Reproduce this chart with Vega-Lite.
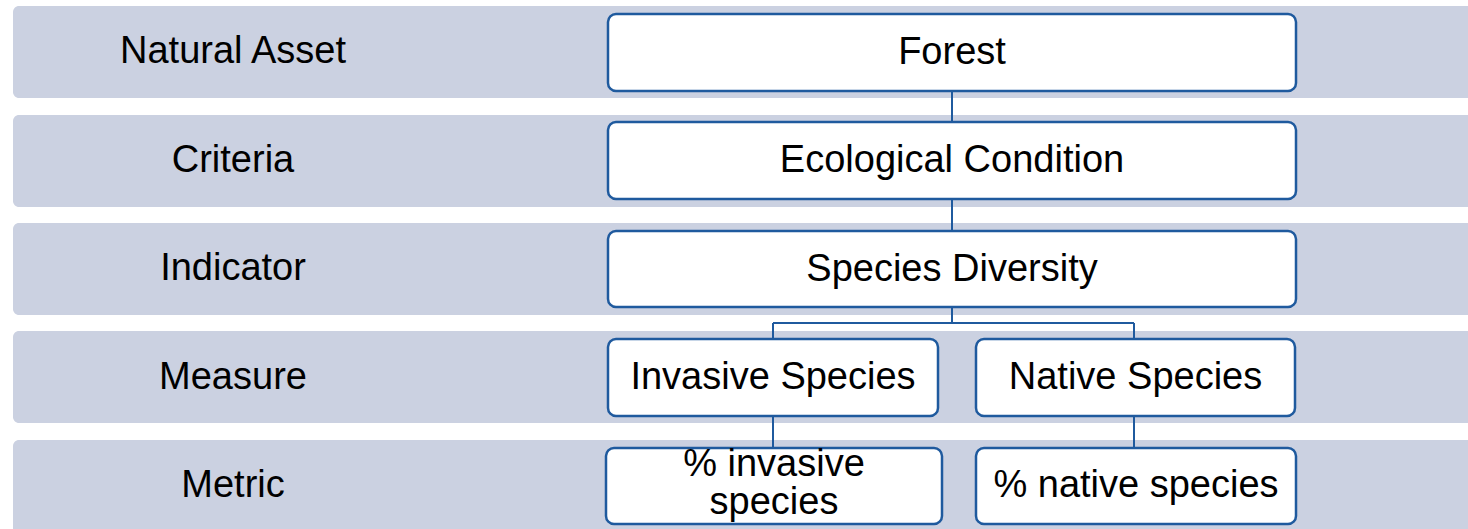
{
  "$schema": "https://vega.github.io/schema/vega-lite/v6.json",
  "width": 1468,
  "height": 529,
  "autosize": {"type": "fit", "contains": "padding"},
  "padding": 0,
  "background": "white",
  "config": {"view": {"stroke": null}},
  "datasets": {
    "bands": [
      {"level": "Natural Asset", "x1": 13, "x2": 1480, "y1": 6, "y2": 98, "ty": 63},
      {"level": "Criteria", "x1": 13, "x2": 1480, "y1": 115, "y2": 207, "ty": 172},
      {"level": "Indicator", "x1": 13, "x2": 1480, "y1": 223, "y2": 315, "ty": 280},
      {"level": "Measure", "x1": 13, "x2": 1480, "y1": 331, "y2": 423, "ty": 389},
      {"level": "Metric", "x1": 13, "x2": 1480, "y1": 440, "y2": 540, "ty": 497}
    ],
    "boxes": [
      {"label": "Forest", "x1": 608, "x2": 1296, "y1": 14, "y2": 91, "ty": 64},
      {"label": "Ecological Condition", "x1": 608, "x2": 1296, "y1": 122, "y2": 199, "ty": 172},
      {"label": "Species Diversity", "x1": 608, "x2": 1296, "y1": 231, "y2": 307, "ty": 281},
      {"label": "Invasive Species", "x1": 608, "x2": 938, "y1": 339, "y2": 416, "ty": 389},
      {"label": "Native Species", "x1": 976, "x2": 1295, "y1": 339, "y2": 416, "ty": 389},
      {"label": "% invasive\nspecies", "x1": 606, "x2": 942, "y1": 448, "y2": 524, "ty": 476},
      {"label": "% native species", "x1": 976, "x2": 1296, "y1": 448, "y2": 524, "ty": 497}
    ],
    "links": [
      {"x1": 952, "x2": 952, "y1": 91, "y2": 122},
      {"x1": 952, "x2": 952, "y1": 199, "y2": 231},
      {"x1": 952, "x2": 952, "y1": 307, "y2": 323},
      {"x1": 773, "x2": 1134, "y1": 323, "y2": 323},
      {"x1": 773, "x2": 773, "y1": 323, "y2": 339},
      {"x1": 1134, "x2": 1134, "y1": 323, "y2": 339},
      {"x1": 773, "x2": 773, "y1": 416, "y2": 448},
      {"x1": 1134, "x2": 1134, "y1": 416, "y2": 448}
    ]
  },
  "layer": [
    {
      "data": {"name": "bands"},
      "mark": {"type": "rect", "fill": "#cbd1e1", "cornerRadius": 6, "clip": true},
      "encoding": {
        "x": {"field": "x1", "type": "quantitative", "scale": {"domain": [0, 1468], "nice": false, "zero": false}, "axis": null},
        "x2": {"field": "x2"},
        "y": {"field": "y1", "type": "quantitative", "scale": {"domain": [0, 529], "nice": false, "zero": false, "reverse": true}, "axis": null},
        "y2": {"field": "y2"}
      }
    },
    {
      "data": {"name": "bands"},
      "mark": {"type": "text", "font": "Liberation Sans", "fontSize": 38, "color": "#000000", "align": "center", "baseline": "alphabetic"},
      "encoding": {
        "x": {"datum": 233, "type": "quantitative"},
        "y": {"field": "ty", "type": "quantitative"},
        "text": {"field": "level"}
      }
    },
    {
      "data": {"name": "links"},
      "mark": {"type": "rule", "color": "#1f5a9e", "strokeWidth": 2},
      "encoding": {
        "x": {"field": "x1", "type": "quantitative"},
        "x2": {"field": "x2"},
        "y": {"field": "y1", "type": "quantitative"},
        "y2": {"field": "y2"}
      }
    },
    {
      "data": {"name": "boxes"},
      "mark": {"type": "rect", "fill": "#ffffff", "stroke": "#1f5a9e", "strokeWidth": 2.5, "cornerRadius": 8},
      "encoding": {
        "x": {"field": "x1", "type": "quantitative"},
        "x2": {"field": "x2"},
        "y": {"field": "y1", "type": "quantitative"},
        "y2": {"field": "y2"}
      }
    },
    {
      "data": {"name": "boxes"},
      "transform": [{"calculate": "(datum.x1 + datum.x2) / 2", "as": "cx"}],
      "mark": {"type": "text", "font": "Liberation Sans", "fontSize": 38, "color": "#000000", "align": "center", "baseline": "alphabetic", "lineBreak": "\n", "lineHeight": 38},
      "encoding": {
        "x": {"field": "cx", "type": "quantitative"},
        "y": {"field": "ty", "type": "quantitative"},
        "text": {"field": "label"}
      }
    }
  ]
}
